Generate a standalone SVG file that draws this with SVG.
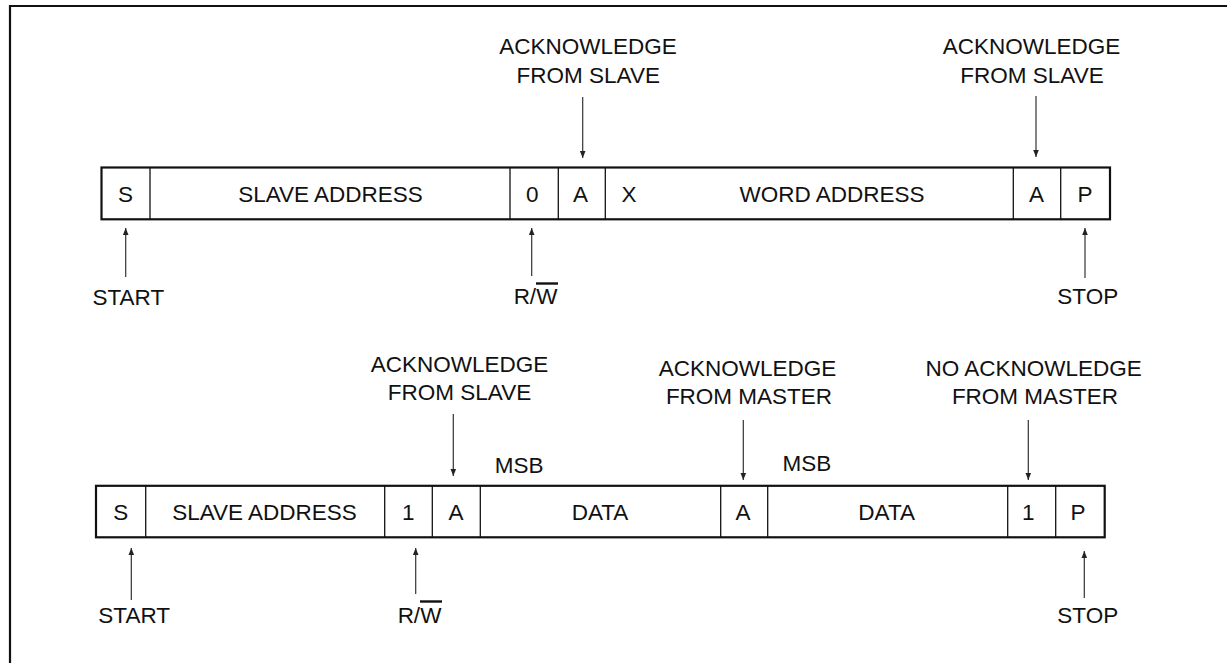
<svg xmlns="http://www.w3.org/2000/svg" width="1227" height="663" viewBox="0 0 1227 663">
<defs>
<style>
text{font-family:"Liberation Sans",Arial,sans-serif;font-size:22.5px;fill:#111;text-anchor:middle}
.frame{fill:none;stroke:#111;stroke-width:2.2}
.div{stroke:#111;stroke-width:1.3}
.ar{stroke:#333;stroke-width:1.2;fill:none;marker-end:url(#ah)}
.ol{stroke:#111;stroke-width:2.4}
.border{stroke:#111;stroke-width:2.2;fill:none}
</style>
<marker id="ah" markerUnits="userSpaceOnUse" markerWidth="8" markerHeight="8" viewBox="0 0 8 8" refX="7" refY="4" orient="auto">
<path d="M0,1.2 L7,4 L0,6.8 Z" fill="#222"/>
</marker>
</defs>
<rect width="1227" height="663" fill="#fff"/>
<path class="border" d="M10,663 L10,6 L1227,6"/>

<g id="write-frame">
<rect class="frame" x="101.5" y="167.5" width="1008.5" height="51.8"/>
<line class="div" x1="150" y1="167.5" x2="150" y2="219.3"/>
<line class="div" x1="510" y1="167.5" x2="510" y2="219.3"/>
<line class="div" x1="558.3" y1="167.5" x2="558.3" y2="219.3"/>
<line class="div" x1="605.3" y1="167.5" x2="605.3" y2="219.3"/>
<line class="div" x1="1013.3" y1="167.5" x2="1013.3" y2="219.3"/>
<line class="div" x1="1060.7" y1="167.5" x2="1060.7" y2="219.3"/>
<text x="125.5" y="201.5">S</text>
<text x="330.5" y="201.5">SLAVE ADDRESS</text>
<text x="532.3" y="201.5">0</text>
<text x="580.5" y="201.5">A</text>
<text x="629" y="201.5">X</text>
<text x="832" y="201.5">WORD ADDRESS</text>
<text x="1036.5" y="201.5">A</text>
<text x="1085" y="201.5">P</text>
</g>

<g id="read-frame">
<rect class="frame" x="96" y="485.8" width="1008.7" height="51.5"/>
<line class="div" x1="145.7" y1="485.8" x2="145.7" y2="537.3"/>
<line class="div" x1="384.7" y1="485.8" x2="384.7" y2="537.3"/>
<line class="div" x1="432.3" y1="485.8" x2="432.3" y2="537.3"/>
<line class="div" x1="480.3" y1="485.8" x2="480.3" y2="537.3"/>
<line class="div" x1="720.7" y1="485.8" x2="720.7" y2="537.3"/>
<line class="div" x1="767.7" y1="485.8" x2="767.7" y2="537.3"/>
<line class="div" x1="1007.7" y1="485.8" x2="1007.7" y2="537.3"/>
<line class="div" x1="1055.7" y1="485.8" x2="1055.7" y2="537.3"/>
<text x="120.7" y="519.5">S</text>
<text x="264.5" y="519.5">SLAVE ADDRESS</text>
<text x="408.3" y="519.5">1</text>
<text x="456" y="519.5">A</text>
<text x="600" y="519.5">DATA</text>
<text x="743" y="519.5">A</text>
<text x="886.7" y="519.5">DATA</text>
<text x="1028.3" y="519.5">1</text>
<text x="1078" y="519.5">P</text>
</g>

<g id="labels-top">
<text x="588" y="54">ACKNOWLEDGE</text>
<text x="588.3" y="82.7">FROM SLAVE</text>
<text x="1031.5" y="54">ACKNOWLEDGE</text>
<text x="1032" y="82.7">FROM SLAVE</text>
<text x="128.3" y="305">START</text>
<text x="535.5" y="304">R/W</text>
<line class="ol" x1="536" y1="283.5" x2="558" y2="283.5"/>
<text x="1087.8" y="304">STOP</text>
</g>

<g id="labels-bottom">
<text x="459.5" y="371.8">ACKNOWLEDGE</text>
<text x="459.5" y="399.5">FROM SLAVE</text>
<text x="747.5" y="376">ACKNOWLEDGE</text>
<text x="749" y="404">FROM MASTER</text>
<text x="1033.7" y="376">NO ACKNOWLEDGE</text>
<text x="1035" y="404">FROM MASTER</text>
<text x="519.2" y="473.3">MSB</text>
<text x="806.8" y="470.7">MSB</text>
<text x="134.2" y="623.3">START</text>
<text x="419.5" y="623.3">R/W</text>
<line class="ol" x1="420" y1="601.5" x2="442" y2="601.5"/>
<text x="1087.8" y="623.3">STOP</text>
</g>

<g id="connectors">
<line class="ar" x1="582.7" y1="97" x2="582.7" y2="158"/>
<line class="ar" x1="1036" y1="96" x2="1036" y2="157"/>
<line class="ar" x1="125.7" y1="277" x2="125.7" y2="228"/>
<line class="ar" x1="531.7" y1="276" x2="531.7" y2="228"/>
<line class="ar" x1="1085" y1="278" x2="1085" y2="228"/>
<line class="ar" x1="453.3" y1="414" x2="453.3" y2="476"/>
<line class="ar" x1="743.3" y1="420" x2="743.3" y2="480"/>
<line class="ar" x1="1028.3" y1="420" x2="1028.3" y2="480"/>
<line class="ar" x1="131.3" y1="600" x2="131.3" y2="548"/>
<line class="ar" x1="415.7" y1="594" x2="415.7" y2="548"/>
<line class="ar" x1="1084.3" y1="598" x2="1084.3" y2="551"/>
</g>
</svg>
